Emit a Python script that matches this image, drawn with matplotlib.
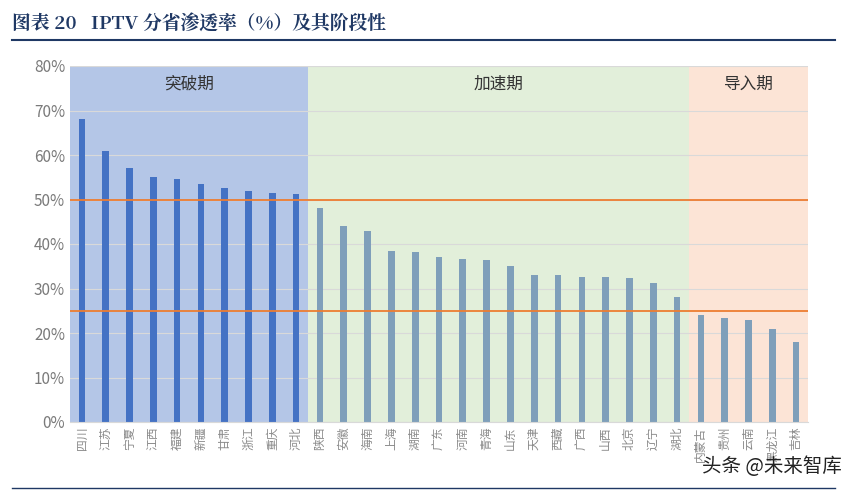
import matplotlib
matplotlib.use("Agg")
import matplotlib.pyplot as plt

plt.rcParams['font.family'] = ['Noto Sans CJK SC', 'DejaVu Sans']

provinces = ["四川","江苏","宁夏","江西","福建","新疆","甘肃","浙江","重庆","河北",
             "陕西","安徽","海南","上海","湖南","广东","河南","青海","山东","天津",
             "西藏","广西","山西","北京","辽宁","湖北",
             "内蒙古","贵州","云南","黑龙江","吉林"]
values = [68,61,57,55,54.5,53.5,52.5,52,51.5,51.3,
          48,44,43,38.5,38.3,37,36.7,36.5,35,33,33,32.5,32.5,32.3,31.3,28,
          24,23.3,23,21,18]
stages = ["突破期","加速期","导入期"]
stage_counts = [10,16,5]
thresholds = [50,25]

fig = plt.figure(figsize=(8.57,4.92), dpi=100)
ax = fig.add_axes([70/857, 1-422/492, 738/857, 356/492])
n = len(values)
bg = ["#B4C6E7","#E2EFDA","#FCE4D6"]
barc = ["#4472C4","#7F9FBA","#7F9FBA"]
start = 0
cols = []
for i,(s,c) in enumerate(zip(stages,stage_counts)):
    ax.axvspan(start-0.5, start+c-0.5, color=bg[i], zorder=0, lw=0)
    ax.text(start+c/2-0.5, 76, s, ha='center', va='center', fontsize=12, color='#333333')
    cols += [barc[i]]*c
    start += c
ax.bar(range(n), values, width=0.28, color=cols, zorder=2)
for t in thresholds:
    ax.axhline(t, color="#ED7D31", lw=1.3, zorder=3)
ax.set_xlim(-0.5, n-0.5)
ax.set_ylim(0,80)
ax.set_yticks(range(0,81,10))
ax.set_yticklabels([f"{v}%" for v in range(0,81,10)], fontsize=11, color='#7a7a7a')
ax.set_xticks(range(n))
ax.set_xticklabels(provinces, rotation=90, fontsize=8.5, color='#8a8a8a')
ax.tick_params(length=0)
ax.grid(axis='y', color='#D9D9D9', lw=0.8, zorder=1)
ax.set_axisbelow(True)
for s in ['top','right','left']:
    ax.spines[s].set_visible(False)
ax.spines['bottom'].set_color('#D9D9D9')

fig.text(12/857, 1-24/492, "图表 20   IPTV 分省渗透率（%）及其阶段性", fontsize=13.5,
         fontweight='bold', color='#1F3864', va='center',
         family=['Noto Serif CJK SC','Noto Sans CJK SC','DejaVu Sans'])
fig.add_artist(plt.Line2D([12/857, 835/857], [1-40/492, 1-40/492], color='#1F3864', lw=1.5))
fig.add_artist(plt.Line2D([12/857, 835/857], [1-488/492, 1-488/492], color='#1F3864', lw=1))
fig.text(842/857, 1-466/492, "头条 @未来智库", fontsize=14, color='#222222', ha='right', va='center')
fig.savefig("out.png", dpi=100)
